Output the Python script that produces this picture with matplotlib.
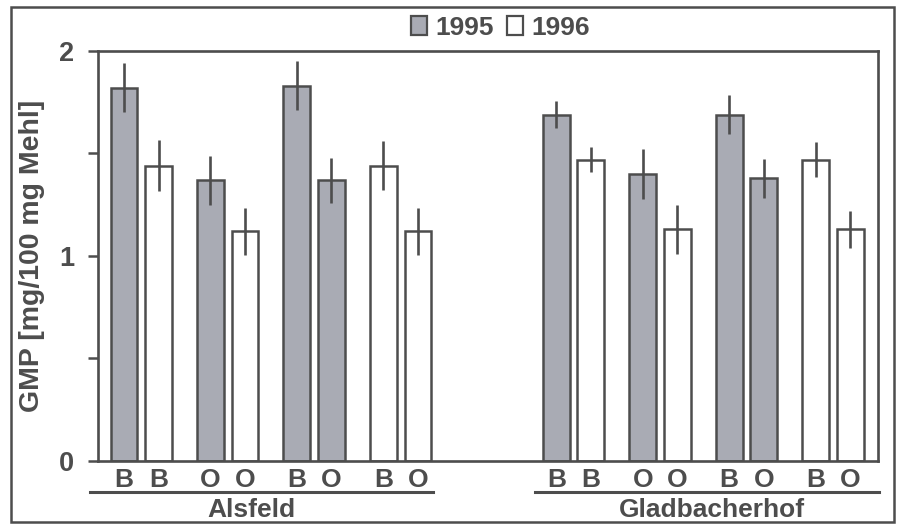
import numpy as np
import matplotlib
matplotlib.use("Agg")
import matplotlib.pyplot as plt
from matplotlib.patches import Patch, Rectangle
import matplotlib.transforms as mtransforms

plt.rcParams['font.family'] = ['Liberation Sans', 'DejaVu Sans']
plt.rcParams['font.weight'] = 'bold'

# data
sites = ['Alsfeld', 'Gladbacherhof']
pair_pos = {'Alsfeld': [0, 1, 2, 3], 'Gladbacherhof': [5, 6, 7, 8]}
bar_labels = ['B', 'B', 'O', 'O', 'B', 'O', 'B', 'O']
bar_years = [1995, 1996, 1995, 1996, 1995, 1995, 1996, 1996]
alsfeld_vals = [1.82, 1.44, 1.37, 1.12, 1.83, 1.37, 1.44, 1.12]
alsfeld_err = [0.12, 0.125, 0.12, 0.115, 0.12, 0.11, 0.12, 0.115]
gladb_vals = [1.69, 1.47, 1.40, 1.13, 1.69, 1.38, 1.47, 1.13]
gladb_err = [0.065, 0.06, 0.12, 0.12, 0.095, 0.095, 0.085, 0.09]

ink = '#4d4d4d'
gray = '#a9abb4'
year_color = {1995: gray, 1996: 'white'}

fig = plt.figure(figsize=(8.98, 5.25), dpi=100)
ax = fig.add_axes([0.1091, 0.1219, 0.8686, 0.7810])

offsets = [-0.2, 0.2]
width = 0.31
xs_all, labs_all = [], []
for site, vals, errs in [('Alsfeld', alsfeld_vals, alsfeld_err),
                         ('Gladbacherhof', gladb_vals, gladb_err)]:
    xs = []
    for p in pair_pos[site]:
        xs += [p + offsets[0], p + offsets[1]]
    cols = [year_color[y] for y in bar_years]
    ax.bar(xs, vals, width=width, color=cols, edgecolor=ink, linewidth=1.8, zorder=2)
    ax.errorbar(xs, vals, yerr=errs, fmt='none', ecolor=ink, elinewidth=1.9,
                capsize=0, zorder=3)
    xs_all += xs
    labs_all += bar_labels

ax.set_xlim(-0.5, 8.52)
ax.set_ylim(0, 2)
ax.set_xticks(xs_all)
ax.set_xticklabels(labs_all, fontsize=19, color=ink)
ax.tick_params(axis='x', length=0, pad=5)
ax.set_yticks([0, 1, 2])
ax.set_yticks([0.5, 1.5], minor=True)
ax.set_yticklabels(['0', '1', '2'], fontsize=19.5, color=ink)
ax.tick_params(axis='y', which='both', length=7, width=1.8, color=ink, pad=10)
for s in ax.spines.values():
    s.set_color(ink)
    s.set_linewidth(1.9)

ylab = ax.set_ylabel('GMP [mg/100 mg Mehl]', fontsize=20.5, color=ink,
                     fontweight='bold')
ylab.set_va('center')
ax.yaxis.set_label_coords(-0.085, 0.5)

# group underlines and site names
trans = mtransforms.blended_transform_factory(ax.transData, ax.transAxes)
group_spans = {'Alsfeld': (-0.59, 3.38), 'Gladbacherhof': (4.55, 8.53)}
name_x = {'Alsfeld': 1.28, 'Gladbacherhof': 6.6}
for site in sites:
    x0, x1 = group_spans[site]
    ax.plot([x0, x1], [-0.076, -0.076], transform=trans, color=ink, lw=2.2,
            clip_on=False)
    ax.text(name_x[site], -0.12, site, transform=trans, ha='center',
            va='center', fontsize=19, color=ink)

handles = [Patch(facecolor=gray, edgecolor=ink, lw=1.6, label='1995'),
           Patch(facecolor='white', edgecolor=ink, lw=1.6, label='1996')]
leg = fig.legend(handles=handles, loc='center', bbox_to_anchor=(0.557, 0.947),
                 ncol=2, frameon=False, fontsize=19, handlelength=0.62,
                 handleheight=0.75, handletextpad=0.3, columnspacing=0.5)
for t in leg.get_texts():
    t.set_color(ink)

fig.patches.append(Rectangle((0.0122, 0.0057), 0.9833, 0.981,
                             transform=fig.transFigure, fill=False,
                             edgecolor=ink, lw=1.8))

fig.savefig('out.png', dpi=100)
